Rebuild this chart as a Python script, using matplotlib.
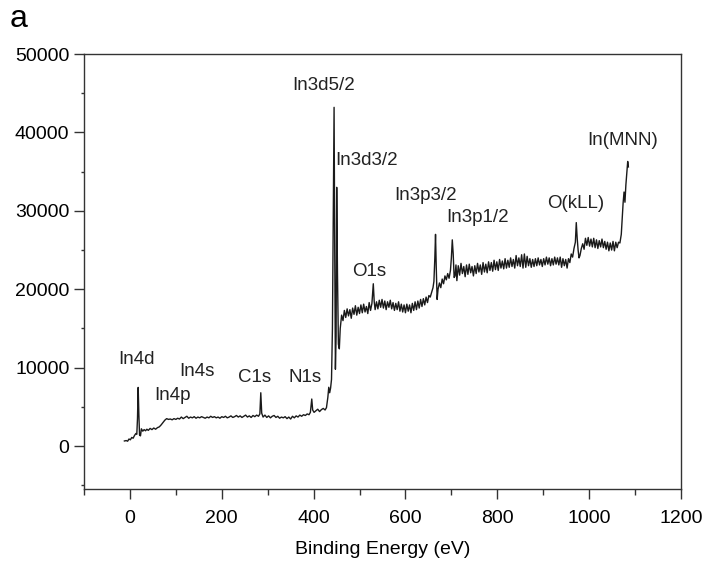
import numpy as np
import matplotlib
matplotlib.use('Agg')
import matplotlib.pyplot as plt
from matplotlib.ticker import MultipleLocator

plt.rc('font', family='Liberation Sans', size=14)

# binding energy (eV) and counts
energy = [-12, -8, -5, -2, 1, 4, 7, 10, 13, 15, 16.5, 18, 19.5, 21, 23, 25, 28, 31, 34, 37,
          40, 44, 48, 52, 56, 60, 64, 68, 72, 76, 80, 84, 88, 92, 96, 100, 104, 108, 112, 116,
          120, 124, 128, 132, 136, 140, 144, 148, 152, 156, 160, 164, 168, 172, 176, 180, 184, 188, 192, 196,
          200, 204, 208, 212, 216, 220, 224, 228, 232, 236, 240, 244, 248, 252, 256, 260, 264, 268, 272, 276,
          280, 283, 285, 287, 290, 294, 298, 302, 306, 310, 314, 318, 322, 326, 330, 334, 338, 342, 346, 350,
          354, 358, 362, 366, 370, 374, 378, 382, 386, 390, 393, 396, 398, 401, 405, 409, 413, 417, 421, 425,
          428, 431, 433, 435, 437, 439, 441, 443, 444.6, 446, 447.5, 449, 450.3, 452, 454, 456, 458, 461, 464, 467,
          470, 473, 476, 479, 482, 485, 488, 491, 494, 497, 500, 503, 506, 509, 512, 515, 518, 521, 524, 527,
          530, 532, 534, 537, 540, 543, 546, 549, 552, 555, 558, 561, 564, 567, 570, 573, 576, 579, 582, 585,
          588, 591, 594, 597, 600, 603, 606, 609, 612, 615, 618, 621, 624, 627, 630, 633, 636, 639, 642, 645,
          648, 651, 654, 657, 660, 662, 664, 665.5, 667, 669, 671, 674, 677, 680, 683, 686, 689, 692, 695, 698,
          700, 702, 704, 706, 708, 710, 712, 715, 718, 721, 724, 727, 730, 733, 736, 739, 742, 745, 748, 751,
          754, 757, 760, 763, 766, 769, 772, 775, 778, 781, 784, 787, 790, 793, 796, 799, 802, 805, 808, 811,
          814, 817, 820, 823, 826, 829, 832, 835, 838, 841, 844, 847, 850, 853, 856, 859, 862, 865, 868, 871,
          874, 877, 880, 883, 886, 889, 892, 895, 898, 901, 904, 907, 910, 913, 916, 919, 922, 925, 928, 931,
          934, 937, 940, 943, 946, 949, 952, 955, 958, 961, 964, 967, 970, 972, 974, 976, 978, 980, 983, 986,
          989, 992, 995, 998, 1001, 1004, 1007, 1010, 1013, 1016, 1019, 1022, 1025, 1028, 1031, 1034, 1037, 1040, 1043, 1046,
          1049, 1052, 1055, 1058, 1061, 1064, 1067, 1070, 1072, 1074, 1076, 1078, 1080, 1082, 1084, 1085.5]
counts = [650, 700, 620, 900, 800, 1100, 1000, 1350, 1600, 1500, 3500, 7480, 4000, 1400, 1300, 2200, 1900, 2100, 1950, 2150,
          2000, 2250, 2100, 2300, 2150, 2350, 2450, 2700, 3000, 3300, 3500, 3400, 3450, 3350, 3500, 3400, 3550, 3450, 3700, 3500,
          3650, 3800, 3550, 3700, 3600, 3750, 3550, 3700, 3600, 3750, 3650, 3550, 3700, 3600, 3800, 3650, 3750, 3600, 3700, 3550,
          3750, 3650, 3800, 3600, 3700, 3850, 3650, 3750, 3900, 3700, 3850, 3650, 3800, 3950, 3700, 3850, 3650, 3900, 3750, 3950,
          3800, 4100, 6800, 4200, 3700, 3950, 3650, 3850, 3600, 3800, 3900, 3650, 3800, 3550, 3700, 3600, 3750, 3500, 3700, 3450,
          3800, 3600, 3850, 3700, 3950, 3800, 4000, 3900, 4100, 4000, 4300, 6000, 4600, 4300, 4500, 4700, 4400, 4650, 4800, 4600,
          4900, 6200, 7500, 6800, 7400, 8500, 15000, 30000, 43200, 25000, 9800, 14000, 33000, 22000, 13000, 12400, 15000, 16700, 16000, 17300,
          16400, 17500, 16600, 17400, 16300, 17600, 16800, 17900, 16700, 17700, 16900, 18000, 17000, 18100, 17100, 17800, 16900, 18300, 17300, 18200,
          20700, 18400, 17400, 18400, 17500, 18600, 17700, 18700, 17600, 18500, 17400, 18400, 17700, 18600, 17500, 18300, 17300, 18200, 17400, 18400,
          17200, 18100, 17100, 18000, 17000, 18100, 17200, 18000, 17000, 18200, 17300, 18400, 17400, 18500, 17600, 18700, 17800, 18800, 18000, 19000,
          18300, 19200, 19000, 19600, 20200, 21000, 24000, 27000, 23000, 18700, 20000, 20800, 20200, 21300, 20700, 21700, 21200, 22000, 21400, 22400,
          24000, 26300, 24500, 21500, 21700, 23100, 21100, 23000, 21800, 23300, 22000, 22900, 21600, 23100, 21900, 23200, 22100, 22900, 21700, 23000,
          22000, 23300, 22200, 23100, 21900, 23400, 22200, 23200, 22100, 23500, 22400, 23400, 22300, 23700, 22500, 23500, 22400, 23800, 22700, 23600,
          22600, 23900, 22700, 23700, 22800, 24000, 22900, 23800, 22700, 24300, 23000, 24000, 22900, 24400, 22700, 24500, 22800, 24200, 23000, 23900,
          22800, 23800, 22900, 23900, 23000, 24000, 23100, 23800, 22900, 23900, 23100, 24100, 23200, 24000, 23000, 23900, 23100, 24100, 23200, 24000,
          23100, 24100, 22800, 23900, 23000, 23800, 22700, 23900, 23400, 24500, 24100, 25200, 26000, 28500, 26500, 25000, 24000, 24300, 25200, 25800,
          25100, 26500, 25600, 26600, 25500, 26400, 25400, 26500, 25300, 26300, 25200, 26200, 25400, 26400, 25300, 26100, 25100, 26000, 24900, 25900,
          25000, 26100, 24900, 26000, 25300, 26000, 25900, 27000, 29000, 31000, 32400, 31100, 33300, 34800, 36300, 35600]

peak_names = ['In4d', 'In4p', 'In4s', 'C1s', 'N1s', 'In3d5/2', 'In3d3/2', 'O1s',
              'In3p3/2', 'In3p1/2', 'O(kLL)', 'In(MNN)']
label_x = [15, 92, 147, 272, 382, 422, 516, 521, 643, 758, 970, 1073]
label_y = [11000, 6400, 9500, 8700, 8700, 46000, 36400, 22300, 31900, 29200, 31000, 39000]

fig = plt.figure(figsize=(7.04, 5.61), dpi=100)
ax = fig.add_axes([0.1193, 0.128, 0.848, 0.7757])
ax.plot(energy, counts, color='#1a1a1a', lw=1.0)

for name, lx, ly in zip(peak_names, label_x, label_y):
    ax.text(lx, ly, name, fontsize=13.5, ha='center', va='center', color='#222222')

ax.set_xlim(-100, 1200)
ax.set_ylim(-5500, 50000)
ax.xaxis.set_major_locator(MultipleLocator(200))
ax.xaxis.set_minor_locator(MultipleLocator(100))
ax.yaxis.set_major_locator(MultipleLocator(10000))
ax.yaxis.set_minor_locator(MultipleLocator(5000))
ax.tick_params(which='major', direction='out', length=7, width=1, labelsize=14, color='#333333')
ax.tick_params(which='minor', direction='out', length=4, width=1, color='#333333')
ax.tick_params(axis='y', which='minor', length=2)
ax.tick_params(axis='x', pad=8)
for s in ax.spines.values():
    s.set_linewidth(1)
    s.set_color('#333333')
ax.set_xlabel('Binding Energy (eV)', fontsize=14, labelpad=10)
fig.text(0.014, 0.966, 'a', fontsize=23, ha='left', va='center')

fig.savefig('out.png', dpi=100)
